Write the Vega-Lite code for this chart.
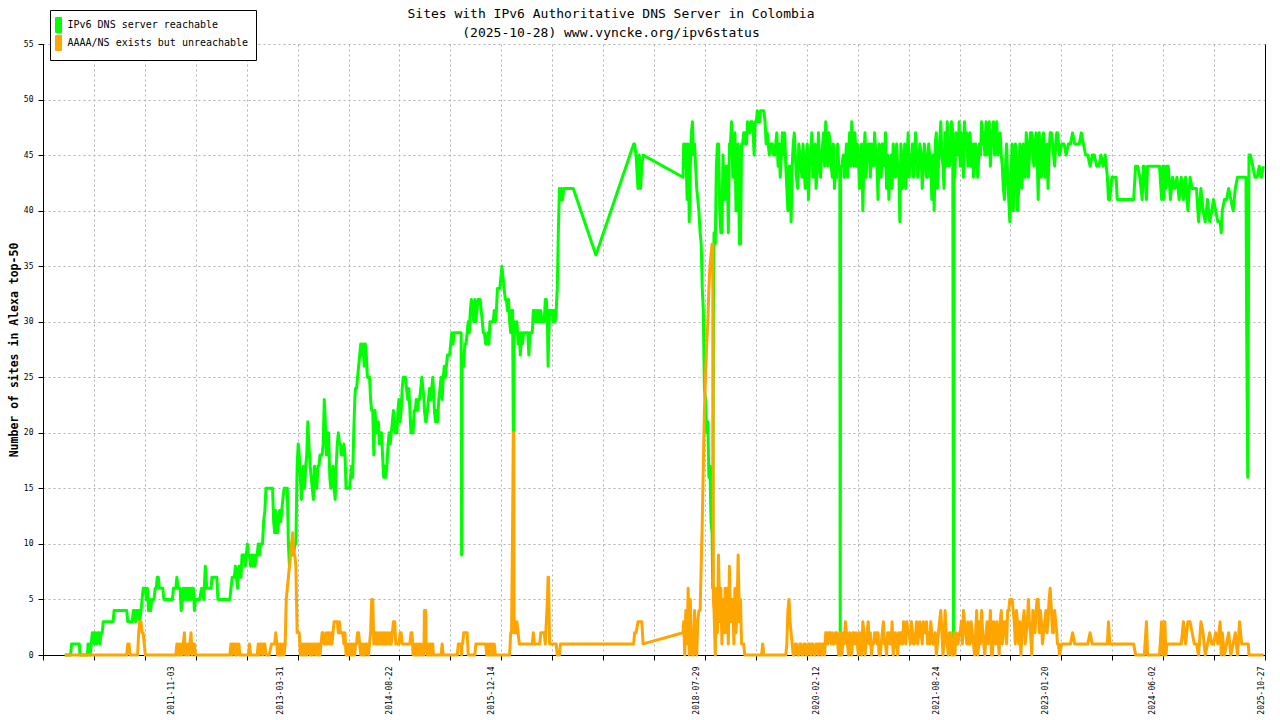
{
  "$schema": "https://vega.github.io/schema/vega-lite/v6.json",
  "width": 1222,
  "height": 611,
  "autosize": "none",
  "padding": {"left": 43, "top": 44, "right": 15, "bottom": 65},
  "background": "white",
  "config": {"view": {"stroke": null}, "font": "DejaVu Sans Mono"},
  "title": {
    "text": ["Sites with IPv6 Authoritative DNS Server in Colombia", "(2025-10-28) www.vyncke.org/ipv6status"],
    "font": "DejaVu Sans Mono",
    "fontSize": 13,
    "fontWeight": "normal",
    "color": "black",
    "anchor": "middle",
    "frame": "group",
    "dx": -43,
    "offset": -30,
    "lineHeight": 19
  },
  "data": {
    "values": [
      {"d":"2010-06-09","g":0,"o":0},{"d":"2010-07-06","g":0,"o":0},{"d":"2010-07-11","g":1,"o":0},{"d":"2010-08-16","g":1,"o":0},
      {"d":"2010-08-19","g":0,"o":0},{"d":"2010-09-23","g":0,"o":0},{"d":"2010-09-26","g":1,"o":0},{"d":"2010-10-03","g":1,"o":0},
      {"d":"2010-10-06","g":0,"o":0},{"d":"2010-10-11","g":1,"o":0},{"d":"2010-10-16","g":2,"o":0},{"d":"2010-10-21","g":2,"o":0},
      {"d":"2010-10-26","g":1,"o":0},{"d":"2010-11-01","g":2,"o":0},{"d":"2010-11-06","g":1,"o":0},{"d":"2010-11-11","g":2,"o":0},
      {"d":"2010-11-16","g":2,"o":0},{"d":"2010-11-21","g":1,"o":0},{"d":"2010-11-26","g":2,"o":0},{"d":"2010-12-01","g":2,"o":0},
      {"d":"2010-12-06","g":3,"o":0},{"d":"2011-01-21","g":3,"o":0},{"d":"2011-01-26","g":4,"o":0},{"d":"2011-03-26","g":4,"o":0},
      {"d":"2011-03-31","g":3,"o":1},{"d":"2011-04-06","g":3,"o":1},{"d":"2011-04-11","g":3,"o":0},{"d":"2011-04-21","g":3,"o":0},
      {"d":"2011-04-26","g":4,"o":0},{"d":"2011-05-01","g":4,"o":0},{"d":"2011-05-06","g":3,"o":0},{"d":"2011-05-11","g":4,"o":0},
      {"d":"2011-05-16","g":4,"o":0},{"d":"2011-05-21","g":4,"o":2},{"d":"2011-05-26","g":3,"o":3},{"d":"2011-06-01","g":4,"o":3},
      {"d":"2011-06-06","g":5,"o":2},{"d":"2011-06-11","g":6,"o":2},{"d":"2011-06-16","g":6,"o":1},{"d":"2011-06-21","g":6,"o":0},
      {"d":"2011-06-26","g":5,"o":0},{"d":"2011-07-01","g":6,"o":0},{"d":"2011-07-06","g":4,"o":0},{"d":"2011-07-11","g":5,"o":0},
      {"d":"2011-07-16","g":4,"o":0},{"d":"2011-07-21","g":5,"o":0},{"d":"2011-08-01","g":5,"o":0},{"d":"2011-08-06","g":6,"o":0},
      {"d":"2011-08-11","g":6,"o":0},{"d":"2011-08-16","g":7,"o":0},{"d":"2011-08-21","g":7,"o":0},{"d":"2011-08-26","g":6,"o":0},
      {"d":"2011-09-11","g":6,"o":0},{"d":"2011-09-16","g":5,"o":0},{"d":"2011-10-26","g":5,"o":0},{"d":"2011-10-31","g":6,"o":0},
      {"d":"2011-11-11","g":6,"o":0},{"d":"2011-11-16","g":7,"o":1},{"d":"2011-11-21","g":6,"o":0},{"d":"2011-11-26","g":6,"o":1},
      {"d":"2011-12-01","g":6,"o":0},{"d":"2011-12-06","g":4,"o":1},{"d":"2011-12-11","g":5,"o":0},{"d":"2011-12-16","g":6,"o":1},
      {"d":"2011-12-21","g":5,"o":2},{"d":"2011-12-26","g":6,"o":0},{"d":"2012-01-01","g":5,"o":0},{"d":"2012-01-06","g":6,"o":1},
      {"d":"2012-01-11","g":5,"o":0},{"d":"2012-01-16","g":6,"o":1},{"d":"2012-01-21","g":5,"o":2},{"d":"2012-01-26","g":6,"o":0},
      {"d":"2012-02-01","g":6,"o":1},{"d":"2012-02-06","g":4,"o":1},{"d":"2012-02-11","g":5,"o":0},{"d":"2012-02-21","g":5,"o":0},
      {"d":"2012-03-01","g":5,"o":0},{"d":"2012-03-11","g":6,"o":0},{"d":"2012-03-21","g":5,"o":0},{"d":"2012-03-28","g":8,"o":0},
      {"d":"2012-04-04","g":6,"o":0},{"d":"2012-04-24","g":6,"o":0},{"d":"2012-04-28","g":7,"o":0},{"d":"2012-05-21","g":7,"o":0},
      {"d":"2012-05-26","g":5,"o":0},{"d":"2012-07-21","g":5,"o":0},{"d":"2012-07-26","g":6,"o":1},{"d":"2012-08-01","g":7,"o":0},
      {"d":"2012-08-06","g":7,"o":1},{"d":"2012-08-11","g":7,"o":1},{"d":"2012-08-16","g":8,"o":0},{"d":"2012-08-21","g":7,"o":1},
      {"d":"2012-08-26","g":6,"o":0},{"d":"2012-09-01","g":8,"o":1},{"d":"2012-09-06","g":8,"o":0},{"d":"2012-09-11","g":7,"o":0},
      {"d":"2012-09-16","g":9,"o":0},{"d":"2012-09-21","g":9,"o":0},{"d":"2012-09-26","g":9,"o":0},{"d":"2012-10-01","g":8,"o":0},
      {"d":"2012-10-06","g":9,"o":0},{"d":"2012-10-11","g":10,"o":0},{"d":"2012-10-16","g":9,"o":0},{"d":"2012-10-21","g":9,"o":1},
      {"d":"2012-10-26","g":8,"o":0},{"d":"2012-11-01","g":9,"o":0},{"d":"2012-11-06","g":8,"o":0},{"d":"2012-11-11","g":9,"o":0},
      {"d":"2012-11-16","g":8,"o":0},{"d":"2012-11-21","g":9,"o":0},{"d":"2012-11-26","g":9,"o":0},{"d":"2012-12-01","g":10,"o":1},
      {"d":"2012-12-06","g":9,"o":0},{"d":"2012-12-11","g":10,"o":1},{"d":"2012-12-16","g":10,"o":1},{"d":"2012-12-21","g":10,"o":0},
      {"d":"2012-12-26","g":12,"o":1},{"d":"2013-01-01","g":13,"o":1},{"d":"2013-01-06","g":15,"o":0},{"d":"2013-01-21","g":15,"o":0},
      {"d":"2013-02-01","g":15,"o":1},{"d":"2013-02-06","g":15,"o":1},{"d":"2013-02-11","g":12,"o":1},{"d":"2013-02-16","g":11,"o":1},
      {"d":"2013-02-21","g":13,"o":2},{"d":"2013-02-26","g":11,"o":1},{"d":"2013-03-01","g":11,"o":0},{"d":"2013-03-06","g":12,"o":1},
      {"d":"2013-03-11","g":13,"o":0},{"d":"2013-03-16","g":12,"o":1},{"d":"2013-03-21","g":13,"o":0},{"d":"2013-03-26","g":14,"o":1},
      {"d":"2013-04-01","g":15,"o":0},{"d":"2013-04-06","g":15,"o":1},{"d":"2013-04-11","g":15,"o":5},{"d":"2013-04-16","g":15,"o":6},
      {"d":"2013-04-21","g":10,"o":7},{"d":"2013-04-26","g":8,"o":8},{"d":"2013-05-01","g":10,"o":9},{"d":"2013-05-06","g":9,"o":10},
      {"d":"2013-05-11","g":10,"o":11},{"d":"2013-05-16","g":9,"o":9},{"d":"2013-05-21","g":10,"o":9},{"d":"2013-05-26","g":10,"o":8},
      {"d":"2013-06-01","g":17,"o":2},{"d":"2013-06-06","g":19,"o":2},{"d":"2013-06-11","g":18,"o":2},{"d":"2013-06-16","g":16,"o":0},
      {"d":"2013-06-21","g":14,"o":1},{"d":"2013-06-26","g":16,"o":0},{"d":"2013-07-01","g":17,"o":1},{"d":"2013-07-06","g":15,"o":0},
      {"d":"2013-07-11","g":17,"o":1},{"d":"2013-07-16","g":18,"o":0},{"d":"2013-07-21","g":21,"o":1},{"d":"2013-07-26","g":19,"o":1},
      {"d":"2013-08-01","g":17,"o":0},{"d":"2013-08-06","g":16,"o":1},{"d":"2013-08-11","g":15,"o":0},{"d":"2013-08-16","g":14,"o":1},
      {"d":"2013-08-21","g":17,"o":1},{"d":"2013-08-26","g":16,"o":0},{"d":"2013-09-01","g":15,"o":1},{"d":"2013-09-06","g":17,"o":0},
      {"d":"2013-09-11","g":17,"o":1},{"d":"2013-09-16","g":18,"o":0},{"d":"2013-09-21","g":18,"o":1},{"d":"2013-09-26","g":18,"o":2},
      {"d":"2013-10-01","g":19,"o":2},{"d":"2013-10-06","g":23,"o":1},{"d":"2013-10-11","g":21,"o":1},{"d":"2013-10-16","g":18,"o":2},
      {"d":"2013-10-21","g":19,"o":1},{"d":"2013-10-26","g":20,"o":2},{"d":"2013-11-01","g":16,"o":1},{"d":"2013-11-06","g":15,"o":2},
      {"d":"2013-11-11","g":16,"o":1},{"d":"2013-11-16","g":17,"o":2},{"d":"2013-11-21","g":15,"o":3},{"d":"2013-11-26","g":14,"o":3},
      {"d":"2013-12-01","g":17,"o":3},{"d":"2013-12-06","g":19,"o":3},{"d":"2013-12-11","g":20,"o":2},{"d":"2013-12-16","g":19,"o":3},
      {"d":"2013-12-21","g":19,"o":2},{"d":"2013-12-26","g":18,"o":2},{"d":"2014-01-01","g":18,"o":2},{"d":"2014-01-06","g":19,"o":1},
      {"d":"2014-01-11","g":18,"o":2},{"d":"2014-01-16","g":15,"o":0},{"d":"2014-01-21","g":15,"o":1},{"d":"2014-01-26","g":15,"o":0},
      {"d":"2014-02-01","g":15,"o":1},{"d":"2014-02-06","g":16,"o":0},{"d":"2014-02-11","g":17,"o":1},{"d":"2014-02-16","g":16,"o":0},
      {"d":"2014-02-21","g":20,"o":1},{"d":"2014-02-26","g":23,"o":0},{"d":"2014-03-01","g":24,"o":1},{"d":"2014-03-06","g":24,"o":1},
      {"d":"2014-03-11","g":25,"o":2},{"d":"2014-03-16","g":26,"o":2},{"d":"2014-03-21","g":27,"o":1},{"d":"2014-03-26","g":28,"o":0},
      {"d":"2014-04-01","g":27,"o":1},{"d":"2014-04-06","g":28,"o":0},{"d":"2014-04-11","g":26,"o":1},{"d":"2014-04-16","g":28,"o":0},
      {"d":"2014-04-21","g":27,"o":1},{"d":"2014-04-26","g":25,"o":1},{"d":"2014-05-01","g":25,"o":0},{"d":"2014-05-06","g":25,"o":1},
      {"d":"2014-05-11","g":23,"o":2},{"d":"2014-05-16","g":22,"o":5},{"d":"2014-05-21","g":22,"o":5},{"d":"2014-05-26","g":18,"o":1},
      {"d":"2014-06-01","g":22,"o":2},{"d":"2014-06-06","g":20,"o":1},{"d":"2014-06-11","g":20,"o":2},{"d":"2014-06-16","g":21,"o":1},
      {"d":"2014-06-21","g":19,"o":2},{"d":"2014-06-26","g":20,"o":1},{"d":"2014-07-01","g":20,"o":2},{"d":"2014-07-06","g":18,"o":1},
      {"d":"2014-07-11","g":16,"o":2},{"d":"2014-07-16","g":17,"o":1},{"d":"2014-07-21","g":16,"o":2},{"d":"2014-07-26","g":17,"o":1},
      {"d":"2014-08-01","g":19,"o":2},{"d":"2014-08-06","g":20,"o":1},{"d":"2014-08-11","g":19,"o":2},{"d":"2014-08-16","g":20,"o":1},
      {"d":"2014-08-21","g":21,"o":2},{"d":"2014-08-26","g":22,"o":3},{"d":"2014-09-01","g":20,"o":3},{"d":"2014-09-06","g":21,"o":1},
      {"d":"2014-09-11","g":20,"o":1},{"d":"2014-09-16","g":22,"o":1},{"d":"2014-09-21","g":23,"o":1},{"d":"2014-09-26","g":21,"o":2},
      {"d":"2014-10-01","g":22,"o":2},{"d":"2014-10-06","g":24,"o":1},{"d":"2014-10-11","g":25,"o":1},{"d":"2014-10-16","g":25,"o":1},
      {"d":"2014-10-21","g":25,"o":1},{"d":"2014-10-26","g":24,"o":1},{"d":"2014-11-01","g":23,"o":1},{"d":"2014-11-06","g":24,"o":1},
      {"d":"2014-11-11","g":22,"o":1},{"d":"2014-11-16","g":20,"o":2},{"d":"2014-11-21","g":21,"o":2},{"d":"2014-11-26","g":20,"o":0},
      {"d":"2014-12-01","g":22,"o":1},{"d":"2014-12-06","g":22,"o":0},{"d":"2014-12-11","g":23,"o":1},{"d":"2014-12-16","g":22,"o":0},
      {"d":"2014-12-21","g":23,"o":1},{"d":"2014-12-26","g":23,"o":0},{"d":"2015-01-01","g":24,"o":1},{"d":"2015-01-06","g":25,"o":0},
      {"d":"2015-01-11","g":24,"o":1},{"d":"2015-01-16","g":23,"o":0},{"d":"2015-01-18","g":22,"o":4},{"d":"2015-01-24","g":21,"o":4},
      {"d":"2015-01-26","g":21,"o":1},{"d":"2015-02-01","g":22,"o":0},{"d":"2015-02-06","g":23,"o":1},{"d":"2015-02-11","g":24,"o":0},
      {"d":"2015-02-16","g":23,"o":1},{"d":"2015-02-21","g":24,"o":0},{"d":"2015-02-26","g":25,"o":1},{"d":"2015-03-01","g":24,"o":0},
      {"d":"2015-03-06","g":22,"o":0},{"d":"2015-03-11","g":21,"o":0},{"d":"2015-03-16","g":22,"o":0},{"d":"2015-03-21","g":21,"o":0},
      {"d":"2015-03-26","g":23,"o":0},{"d":"2015-04-01","g":24,"o":0},{"d":"2015-04-06","g":25,"o":0},{"d":"2015-04-11","g":23,"o":1},
      {"d":"2015-04-16","g":25,"o":0},{"d":"2015-04-21","g":26,"o":0},{"d":"2015-04-26","g":25,"o":0},{"d":"2015-05-01","g":26,"o":0},
      {"d":"2015-05-06","g":27,"o":0},{"d":"2015-05-11","g":27,"o":0},{"d":"2015-05-16","g":27,"o":0},{"d":"2015-05-21","g":28,"o":0},
      {"d":"2015-05-26","g":29,"o":0},{"d":"2015-06-01","g":28,"o":0},{"d":"2015-06-06","g":29,"o":0},{"d":"2015-06-11","g":29,"o":0},
      {"d":"2015-06-16","g":29,"o":0},{"d":"2015-06-21","g":29,"o":0},{"d":"2015-06-26","g":29,"o":1},{"d":"2015-07-01","g":29,"o":1},
      {"d":"2015-07-06","g":29,"o":1},{"d":"2015-07-09","g":29,"o":1},{"d":"2015-07-11","g":9,"o":0},{"d":"2015-07-13","g":26,"o":1},
      {"d":"2015-07-16","g":27,"o":1},{"d":"2015-07-21","g":26,"o":2},{"d":"2015-07-26","g":28,"o":2},{"d":"2015-08-01","g":28,"o":2},
      {"d":"2015-08-06","g":29,"o":2},{"d":"2015-08-11","g":30,"o":0},{"d":"2015-08-16","g":29,"o":0},{"d":"2015-08-21","g":31,"o":0},
      {"d":"2015-08-26","g":32,"o":0},{"d":"2015-09-01","g":31,"o":0},{"d":"2015-09-06","g":30,"o":0},{"d":"2015-09-11","g":32,"o":0},
      {"d":"2015-09-16","g":30,"o":1},{"d":"2015-09-21","g":31,"o":1},{"d":"2015-09-26","g":32,"o":1},{"d":"2015-10-01","g":32,"o":1},
      {"d":"2015-10-06","g":32,"o":1},{"d":"2015-10-11","g":31,"o":1},{"d":"2015-10-16","g":30,"o":1},{"d":"2015-10-21","g":29,"o":1},
      {"d":"2015-10-26","g":29,"o":1},{"d":"2015-11-01","g":28,"o":1},{"d":"2015-11-06","g":28,"o":0},{"d":"2015-11-11","g":29,"o":1},
      {"d":"2015-11-16","g":28,"o":0},{"d":"2015-11-21","g":30,"o":1},{"d":"2015-11-26","g":30,"o":0},{"d":"2015-12-01","g":30,"o":1},
      {"d":"2015-12-06","g":30,"o":0},{"d":"2015-12-11","g":31,"o":1},{"d":"2015-12-16","g":30,"o":0},{"d":"2015-12-21","g":31,"o":0},
      {"d":"2015-12-26","g":33,"o":0},{"d":"2016-01-01","g":33,"o":0},{"d":"2016-01-06","g":33,"o":0},{"d":"2016-01-11","g":34,"o":0},
      {"d":"2016-01-16","g":35,"o":0},{"d":"2016-01-21","g":34,"o":0},{"d":"2016-01-26","g":33,"o":0},{"d":"2016-02-01","g":32,"o":0},
      {"d":"2016-02-06","g":32,"o":0},{"d":"2016-02-11","g":31,"o":0},{"d":"2016-02-16","g":32,"o":0},{"d":"2016-02-21","g":30,"o":0},
      {"d":"2016-02-26","g":29,"o":2},{"d":"2016-03-01","g":31,"o":2},{"d":"2016-03-06","g":31,"o":12},{"d":"2016-03-09","g":20,"o":20},
      {"d":"2016-03-11","g":20,"o":20},{"d":"2016-03-13","g":29,"o":2},{"d":"2016-03-16","g":30,"o":2},{"d":"2016-03-21","g":29,"o":2},
      {"d":"2016-03-26","g":30,"o":3},{"d":"2016-04-01","g":28,"o":2},{"d":"2016-04-06","g":29,"o":1},{"d":"2016-04-11","g":27,"o":1},
      {"d":"2016-04-16","g":29,"o":1},{"d":"2016-04-21","g":28,"o":1},{"d":"2016-04-26","g":29,"o":1},{"d":"2016-05-01","g":29,"o":1},
      {"d":"2016-05-11","g":29,"o":1},{"d":"2016-05-16","g":29,"o":1},{"d":"2016-05-21","g":27,"o":1},{"d":"2016-05-26","g":29,"o":1},
      {"d":"2016-06-01","g":29,"o":1},{"d":"2016-06-06","g":29,"o":1},{"d":"2016-06-11","g":31,"o":2},{"d":"2016-06-16","g":31,"o":1},
      {"d":"2016-06-21","g":30,"o":1},{"d":"2016-06-26","g":31,"o":1},{"d":"2016-07-01","g":30,"o":1},{"d":"2016-07-06","g":31,"o":1},
      {"d":"2016-07-11","g":30,"o":1},{"d":"2016-07-16","g":31,"o":2},{"d":"2016-07-21","g":30,"o":2},{"d":"2016-07-26","g":30,"o":2},
      {"d":"2016-08-01","g":30,"o":2},{"d":"2016-08-06","g":32,"o":1},{"d":"2016-08-11","g":32,"o":3},{"d":"2016-08-16","g":30,"o":5},
      {"d":"2016-08-19","g":26,"o":7},{"d":"2016-08-21","g":28,"o":7},{"d":"2016-08-26","g":31,"o":1},{"d":"2016-09-01","g":31,"o":1},
      {"d":"2016-09-06","g":31,"o":1},{"d":"2016-09-11","g":30,"o":1},{"d":"2016-09-16","g":31,"o":1},{"d":"2016-09-21","g":30,"o":1},
      {"d":"2016-09-26","g":31,"o":1},{"d":"2016-10-01","g":33,"o":0},{"d":"2016-10-06","g":38,"o":0},{"d":"2016-10-11","g":42,"o":0},
      {"d":"2016-10-16","g":41,"o":1},{"d":"2016-10-21","g":42,"o":1},{"d":"2016-10-26","g":41,"o":1},{"d":"2016-11-01","g":42,"o":1},
      {"d":"2016-12-15","g":42,"o":1},{"d":"2017-03-31","g":36,"o":1},{"d":"2017-09-24","g":46,"o":1},{"d":"2017-09-28","g":46,"o":2},
      {"d":"2017-10-05","g":45,"o":2},{"d":"2017-10-14","g":42,"o":3},{"d":"2017-10-20","g":45,"o":3},{"d":"2017-10-26","g":42,"o":3},
      {"d":"2017-11-01","g":44,"o":3},{"d":"2017-11-07","g":45,"o":1},{"d":"2018-05-13","g":43,"o":2},{"d":"2018-05-16","g":46,"o":3},
      {"d":"2018-05-21","g":44,"o":0},{"d":"2018-05-26","g":46,"o":4},{"d":"2018-06-01","g":41,"o":1},{"d":"2018-06-06","g":46,"o":6},
      {"d":"2018-06-11","g":39,"o":0},{"d":"2018-06-16","g":44,"o":5},{"d":"2018-06-21","g":47,"o":1},{"d":"2018-06-26","g":48,"o":0},
      {"d":"2018-07-01","g":45,"o":0},{"d":"2018-07-06","g":46,"o":4},{"d":"2018-07-11","g":44,"o":1},{"d":"2018-07-16","g":42,"o":0},
      {"d":"2018-07-21","g":41,"o":3},{"d":"2018-07-26","g":40,"o":4},{"d":"2018-08-01","g":38,"o":4},{"d":"2018-08-06","g":37,"o":8},
      {"d":"2018-08-11","g":33,"o":12},{"d":"2018-08-16","g":31,"o":17},{"d":"2018-08-21","g":24,"o":22},{"d":"2018-08-26","g":23,"o":25},
      {"d":"2018-09-01","g":20,"o":28},{"d":"2018-09-06","g":21,"o":30},{"d":"2018-09-11","g":16,"o":33},{"d":"2018-09-16","g":17,"o":35},
      {"d":"2018-09-21","g":12,"o":36},{"d":"2018-09-26","g":11,"o":37},{"d":"2018-09-29","g":6,"o":37},{"d":"2018-10-02","g":30,"o":5},
      {"d":"2018-10-05","g":38,"o":4},{"d":"2018-10-11","g":37,"o":0},{"d":"2018-10-16","g":44,"o":6},{"d":"2018-10-21","g":46,"o":2},
      {"d":"2018-10-26","g":46,"o":9},{"d":"2018-11-01","g":40,"o":3},{"d":"2018-11-06","g":38,"o":6},{"d":"2018-11-11","g":38,"o":1},
      {"d":"2018-11-16","g":45,"o":5},{"d":"2018-11-21","g":41,"o":2},{"d":"2018-11-26","g":41,"o":6},{"d":"2018-12-01","g":44,"o":2},
      {"d":"2018-12-06","g":44,"o":6},{"d":"2018-12-11","g":38,"o":1},{"d":"2018-12-16","g":46,"o":8},{"d":"2018-12-21","g":46,"o":3},
      {"d":"2018-12-26","g":48,"o":5},{"d":"2019-01-01","g":43,"o":5},{"d":"2019-01-06","g":43,"o":1},{"d":"2019-01-11","g":47,"o":6},
      {"d":"2019-01-16","g":40,"o":2},{"d":"2019-01-21","g":40,"o":4},{"d":"2019-01-26","g":46,"o":9},{"d":"2019-02-01","g":37,"o":3},
      {"d":"2019-02-06","g":37,"o":5},{"d":"2019-02-11","g":46,"o":1},{"d":"2019-02-16","g":46,"o":1},{"d":"2019-02-21","g":47,"o":1},
      {"d":"2019-02-26","g":47,"o":0},{"d":"2019-03-01","g":46,"o":0},{"d":"2019-03-06","g":46,"o":0},{"d":"2019-03-11","g":48,"o":0},
      {"d":"2019-03-21","g":47,"o":0},{"d":"2019-04-01","g":48,"o":0},{"d":"2019-04-11","g":45,"o":0},{"d":"2019-04-21","g":48,"o":0},
      {"d":"2019-05-01","g":48,"o":0},{"d":"2019-05-11","g":49,"o":0},{"d":"2019-05-21","g":49,"o":1},{"d":"2019-05-26","g":49,"o":0},
      {"d":"2019-06-01","g":48,"o":0},{"d":"2019-06-11","g":47,"o":0},{"d":"2019-06-21","g":45,"o":0},{"d":"2019-07-01","g":46,"o":0},
      {"d":"2019-07-11","g":45,"o":0},{"d":"2019-07-21","g":46,"o":0},{"d":"2019-08-01","g":44,"o":0},{"d":"2019-08-11","g":43,"o":0},
      {"d":"2019-08-21","g":47,"o":0},{"d":"2019-09-01","g":47,"o":0},{"d":"2019-09-11","g":42,"o":1},{"d":"2019-09-16","g":40,"o":4},
      {"d":"2019-09-21","g":44,"o":5},{"d":"2019-09-26","g":44,"o":3},{"d":"2019-10-01","g":39,"o":2},{"d":"2019-10-11","g":46,"o":0},
      {"d":"2019-10-21","g":45,"o":1},{"d":"2019-11-01","g":42,"o":0},{"d":"2019-11-11","g":45,"o":1},{"d":"2019-11-21","g":43,"o":0},
      {"d":"2019-12-01","g":44,"o":1},{"d":"2019-12-11","g":44,"o":0},{"d":"2019-12-21","g":41,"o":1},{"d":"2020-01-01","g":45,"o":0},
      {"d":"2020-01-11","g":43,"o":1},{"d":"2020-01-21","g":46,"o":0},{"d":"2020-02-01","g":44,"o":1},{"d":"2020-02-11","g":44,"o":1},
      {"d":"2020-02-21","g":45,"o":0},{"d":"2020-03-01","g":47,"o":1},{"d":"2020-03-11","g":48,"o":2},{"d":"2020-03-21","g":44,"o":1},
      {"d":"2020-04-01","g":46,"o":2},{"d":"2020-04-11","g":43,"o":2},{"d":"2020-04-21","g":42,"o":1},{"d":"2020-05-01","g":43,"o":2},
      {"d":"2020-05-11","g":44,"o":0},{"d":"2020-05-16","g":44,"o":2},{"d":"2020-05-18","g":0,"o":1},{"d":"2020-05-20","g":44,"o":1},
      {"d":"2020-05-26","g":44,"o":0},{"d":"2020-06-01","g":45,"o":2},{"d":"2020-06-11","g":44,"o":3},{"d":"2020-06-21","g":43,"o":1},
      {"d":"2020-07-01","g":47,"o":2},{"d":"2020-07-11","g":48,"o":0},{"d":"2020-07-21","g":44,"o":2},{"d":"2020-08-01","g":44,"o":2},
      {"d":"2020-08-11","g":45,"o":0},{"d":"2020-08-21","g":43,"o":1},{"d":"2020-09-01","g":40,"o":3},{"d":"2020-09-11","g":47,"o":0},
      {"d":"2020-09-21","g":45,"o":2},{"d":"2020-10-01","g":46,"o":1},{"d":"2020-10-11","g":46,"o":0},{"d":"2020-10-21","g":44,"o":1},
      {"d":"2020-11-01","g":45,"o":2},{"d":"2020-11-11","g":41,"o":2},{"d":"2020-11-21","g":45,"o":0},{"d":"2020-12-01","g":46,"o":2},
      {"d":"2020-12-11","g":44,"o":1},{"d":"2020-12-21","g":42,"o":0},{"d":"2021-01-01","g":41,"o":2},{"d":"2021-01-11","g":45,"o":1},
      {"d":"2021-01-21","g":46,"o":0},{"d":"2021-02-01","g":43,"o":2},{"d":"2021-02-11","g":44,"o":0},{"d":"2021-02-21","g":39,"o":1},
      {"d":"2021-03-01","g":45,"o":2},{"d":"2021-03-11","g":44,"o":3},{"d":"2021-03-21","g":42,"o":1},{"d":"2021-04-01","g":47,"o":2},
      {"d":"2021-04-11","g":45,"o":1},{"d":"2021-04-21","g":46,"o":2},{"d":"2021-05-01","g":45,"o":1},{"d":"2021-05-11","g":45,"o":3},
      {"d":"2021-05-21","g":44,"o":2},{"d":"2021-06-01","g":45,"o":2},{"d":"2021-06-11","g":44,"o":3},{"d":"2021-06-21","g":45,"o":2},
      {"d":"2021-07-01","g":43,"o":1},{"d":"2021-07-11","g":45,"o":1},{"d":"2021-07-21","g":41,"o":2},{"d":"2021-08-01","g":40,"o":1},
      {"d":"2021-08-11","g":47,"o":0},{"d":"2021-08-21","g":44,"o":2},{"d":"2021-09-01","g":48,"o":4},{"d":"2021-09-11","g":44,"o":0},
      {"d":"2021-09-21","g":47,"o":4},{"d":"2021-10-01","g":48,"o":1},{"d":"2021-10-11","g":44,"o":2},{"d":"2021-10-21","g":48,"o":0},
      {"d":"2021-10-27","g":47,"o":1},{"d":"2021-10-30","g":0,"o":1},{"d":"2021-11-02","g":45,"o":2},{"d":"2021-11-11","g":47,"o":2},
      {"d":"2021-11-21","g":45,"o":1},{"d":"2021-12-01","g":44,"o":2},{"d":"2021-12-11","g":46,"o":1},{"d":"2021-12-21","g":48,"o":3},
      {"d":"2022-01-01","g":47,"o":1},{"d":"2022-01-11","g":46,"o":1},{"d":"2022-01-21","g":44,"o":3},{"d":"2022-02-01","g":43,"o":1},
      {"d":"2022-02-11","g":46,"o":2},{"d":"2022-02-21","g":43,"o":0},{"d":"2022-03-01","g":46,"o":3},{"d":"2022-03-11","g":48,"o":4},
      {"d":"2022-03-21","g":47,"o":1},{"d":"2022-04-01","g":48,"o":2},{"d":"2022-04-11","g":47,"o":1},{"d":"2022-04-21","g":44,"o":4},
      {"d":"2022-05-01","g":47,"o":0},{"d":"2022-05-11","g":45,"o":2},{"d":"2022-05-21","g":48,"o":3},{"d":"2022-06-01","g":46,"o":0},
      {"d":"2022-06-11","g":45,"o":4},{"d":"2022-06-21","g":42,"o":2},{"d":"2022-07-01","g":44,"o":3},{"d":"2022-07-11","g":43,"o":4},
      {"d":"2022-07-21","g":39,"o":5},{"d":"2022-08-01","g":46,"o":5},{"d":"2022-08-11","g":42,"o":3},{"d":"2022-08-21","g":45,"o":4},
      {"d":"2022-09-01","g":42,"o":1},{"d":"2022-09-11","g":44,"o":0},{"d":"2022-09-21","g":46,"o":3},{"d":"2022-10-01","g":43,"o":1},
      {"d":"2022-10-11","g":46,"o":3},{"d":"2022-10-21","g":45,"o":3},{"d":"2022-11-01","g":47,"o":0},{"d":"2022-11-11","g":44,"o":3},
      {"d":"2022-11-21","g":47,"o":4},{"d":"2022-12-01","g":41,"o":5},{"d":"2022-12-11","g":45,"o":4},{"d":"2022-12-21","g":46,"o":1},
      {"d":"2023-01-01","g":43,"o":3},{"d":"2023-01-11","g":46,"o":2},{"d":"2023-01-21","g":45,"o":5},{"d":"2023-02-01","g":47,"o":4},
      {"d":"2023-02-11","g":45,"o":2},{"d":"2023-02-21","g":46,"o":3},{"d":"2023-03-01","g":47,"o":1},{"d":"2023-03-11","g":45,"o":0},
      {"d":"2023-03-21","g":46,"o":1},{"d":"2023-04-01","g":46,"o":1},{"d":"2023-04-11","g":45,"o":1},{"d":"2023-04-21","g":46,"o":1},
      {"d":"2023-05-01","g":46,"o":1},{"d":"2023-05-11","g":47,"o":2},{"d":"2023-05-21","g":46,"o":1},{"d":"2023-06-01","g":46,"o":1},
      {"d":"2023-06-11","g":46,"o":1},{"d":"2023-06-21","g":47,"o":1},{"d":"2023-07-01","g":46,"o":1},{"d":"2023-07-11","g":45,"o":1},
      {"d":"2023-07-21","g":45,"o":1},{"d":"2023-08-01","g":44,"o":2},{"d":"2023-08-11","g":45,"o":1},{"d":"2023-08-21","g":45,"o":1},
      {"d":"2023-09-01","g":44,"o":1},{"d":"2023-09-11","g":44,"o":1},{"d":"2023-09-21","g":45,"o":1},{"d":"2023-10-01","g":44,"o":1},
      {"d":"2023-10-11","g":45,"o":1},{"d":"2023-10-21","g":43,"o":1},{"d":"2023-10-26","g":41,"o":3},{"d":"2023-11-01","g":41,"o":1},
      {"d":"2023-11-11","g":43,"o":1},{"d":"2023-11-21","g":43,"o":1},{"d":"2023-12-01","g":43,"o":1},{"d":"2023-12-06","g":41,"o":1},
      {"d":"2023-12-11","g":41,"o":1},{"d":"2023-12-21","g":41,"o":1},{"d":"2024-01-11","g":41,"o":1},{"d":"2024-02-11","g":41,"o":1},
      {"d":"2024-02-21","g":41,"o":1},{"d":"2024-03-01","g":44,"o":0},{"d":"2024-03-11","g":44,"o":0},{"d":"2024-03-21","g":43,"o":0},
      {"d":"2024-04-01","g":41,"o":0},{"d":"2024-04-06","g":44,"o":0},{"d":"2024-04-11","g":44,"o":0},{"d":"2024-04-21","g":41,"o":3},
      {"d":"2024-04-26","g":44,"o":0},{"d":"2024-05-11","g":44,"o":0},{"d":"2024-06-11","g":44,"o":0},{"d":"2024-06-21","g":44,"o":0},
      {"d":"2024-07-01","g":41,"o":3},{"d":"2024-07-06","g":44,"o":0},{"d":"2024-07-11","g":41,"o":0},{"d":"2024-07-16","g":44,"o":3},
      {"d":"2024-07-21","g":42,"o":0},{"d":"2024-07-26","g":44,"o":1},{"d":"2024-08-01","g":44,"o":1},{"d":"2024-08-11","g":41,"o":1},
      {"d":"2024-08-21","g":43,"o":1},{"d":"2024-09-01","g":42,"o":1},{"d":"2024-09-11","g":43,"o":1},{"d":"2024-09-21","g":41,"o":1},
      {"d":"2024-10-01","g":43,"o":1},{"d":"2024-10-11","g":41,"o":3},{"d":"2024-10-21","g":43,"o":1},{"d":"2024-11-01","g":40,"o":3},
      {"d":"2024-11-11","g":43,"o":3},{"d":"2024-11-21","g":42,"o":2},{"d":"2024-12-01","g":42,"o":1},{"d":"2024-12-11","g":42,"o":1},
      {"d":"2024-12-21","g":39,"o":0},{"d":"2025-01-01","g":42,"o":3},{"d":"2025-01-11","g":40,"o":2},{"d":"2025-01-21","g":39,"o":0},
      {"d":"2025-02-01","g":41,"o":1},{"d":"2025-02-11","g":39,"o":2},{"d":"2025-02-21","g":40,"o":1},{"d":"2025-03-01","g":41,"o":1},
      {"d":"2025-03-11","g":40,"o":2},{"d":"2025-03-21","g":39,"o":1},{"d":"2025-04-01","g":39,"o":3},{"d":"2025-04-06","g":38,"o":0},
      {"d":"2025-04-11","g":40,"o":2},{"d":"2025-04-21","g":41,"o":0},{"d":"2025-05-01","g":41,"o":1},{"d":"2025-05-11","g":42,"o":2},
      {"d":"2025-05-21","g":41,"o":0},{"d":"2025-06-01","g":40,"o":1},{"d":"2025-06-11","g":42,"o":2},{"d":"2025-06-21","g":43,"o":0},
      {"d":"2025-07-01","g":43,"o":3},{"d":"2025-07-11","g":43,"o":1},{"d":"2025-07-21","g":43,"o":1},{"d":"2025-07-31","g":43,"o":1},
      {"d":"2025-08-03","g":30,"o":1},{"d":"2025-08-08","g":16,"o":1},{"d":"2025-08-11","g":30,"o":1},{"d":"2025-08-14","g":45,"o":0},
      {"d":"2025-08-21","g":45,"o":0},{"d":"2025-09-01","g":44,"o":0},{"d":"2025-09-11","g":43,"o":0},{"d":"2025-09-21","g":43,"o":0},
      {"d":"2025-10-01","g":44,"o":0},{"d":"2025-10-11","g":43,"o":0},{"d":"2025-10-21","g":44,"o":0},
      {"d":"2019-03-16","g":47,"o":0},{"d":"2019-03-26","g":48,"o":0},{"d":"2019-04-06","g":47,"o":0},{"d":"2019-04-16","g":48,"o":0},
      {"d":"2019-04-26","g":49,"o":0},{"d":"2019-05-06","g":48,"o":0},{"d":"2019-05-16","g":49,"o":0},{"d":"2019-06-06","g":46,"o":0},
      {"d":"2019-06-16","g":46,"o":0},{"d":"2019-06-26","g":46,"o":0},{"d":"2019-07-06","g":46,"o":0},{"d":"2019-07-16","g":45,"o":0},
      {"d":"2019-07-26","g":47,"o":0},{"d":"2019-08-06","g":46,"o":0},{"d":"2019-08-16","g":45,"o":0},{"d":"2019-08-26","g":45,"o":0},
      {"d":"2019-09-06","g":44,"o":0},{"d":"2019-10-06","g":44,"o":1},{"d":"2019-10-16","g":47,"o":0},{"d":"2019-10-26","g":43,"o":1},
      {"d":"2019-11-06","g":46,"o":0},{"d":"2019-11-16","g":44,"o":1},{"d":"2019-11-26","g":46,"o":0},{"d":"2019-12-06","g":42,"o":1},
      {"d":"2019-12-16","g":46,"o":0},{"d":"2019-12-26","g":44,"o":1},{"d":"2020-01-06","g":47,"o":1},{"d":"2020-01-16","g":44,"o":0},
      {"d":"2020-01-26","g":42,"o":1},{"d":"2020-02-06","g":47,"o":0},{"d":"2020-02-16","g":43,"o":1},{"d":"2020-02-26","g":46,"o":1},
      {"d":"2020-03-06","g":44,"o":0},{"d":"2020-03-16","g":46,"o":2},{"d":"2020-03-26","g":47,"o":2},{"d":"2020-04-06","g":44,"o":1},
      {"d":"2020-04-16","g":46,"o":1},{"d":"2020-04-26","g":44,"o":2},{"d":"2020-05-06","g":46,"o":1},{"d":"2020-06-06","g":43,"o":1},
      {"d":"2020-06-16","g":46,"o":2},{"d":"2020-06-26","g":45,"o":0},{"d":"2020-07-06","g":44,"o":1},{"d":"2020-07-16","g":46,"o":2},
      {"d":"2020-07-26","g":47,"o":1},{"d":"2020-08-06","g":46,"o":1},{"d":"2020-08-16","g":42,"o":2},{"d":"2020-08-26","g":46,"o":0},
      {"d":"2020-09-06","g":45,"o":2},{"d":"2020-09-16","g":43,"o":1},{"d":"2020-09-26","g":46,"o":3},{"d":"2020-10-06","g":43,"o":2},
      {"d":"2020-10-16","g":45,"o":1},{"d":"2020-10-26","g":47,"o":2},{"d":"2020-11-06","g":44,"o":1},{"d":"2020-11-16","g":46,"o":0},
      {"d":"2020-11-26","g":43,"o":1},{"d":"2020-12-06","g":45,"o":3},{"d":"2020-12-16","g":47,"o":1},{"d":"2020-12-26","g":45,"o":2},
      {"d":"2021-01-06","g":44,"o":1},{"d":"2021-01-16","g":42,"o":3},{"d":"2021-01-26","g":45,"o":1},{"d":"2021-02-06","g":46,"o":1},
      {"d":"2021-02-16","g":44,"o":2},{"d":"2021-02-26","g":46,"o":2},{"d":"2021-03-06","g":42,"o":1},{"d":"2021-03-16","g":46,"o":2},
      {"d":"2021-03-26","g":44,"o":3},{"d":"2021-04-06","g":43,"o":2},{"d":"2021-04-16","g":44,"o":3},{"d":"2021-04-26","g":43,"o":1},
      {"d":"2021-05-06","g":47,"o":2},{"d":"2021-05-16","g":43,"o":1},{"d":"2021-05-26","g":46,"o":3},{"d":"2021-06-06","g":42,"o":1},
      {"d":"2021-06-16","g":46,"o":2},{"d":"2021-06-26","g":43,"o":3},{"d":"2021-07-06","g":46,"o":2},{"d":"2021-07-16","g":44,"o":3},
      {"d":"2021-07-26","g":45,"o":1},{"d":"2021-08-06","g":46,"o":2},{"d":"2021-08-16","g":42,"o":1},{"d":"2021-08-26","g":46,"o":3},
      {"d":"2021-09-06","g":45,"o":2},{"d":"2021-09-16","g":42,"o":1},{"d":"2021-09-26","g":44,"o":2},{"d":"2021-10-06","g":46,"o":0},
      {"d":"2021-10-16","g":45,"o":2},{"d":"2021-11-06","g":43,"o":0},{"d":"2021-11-16","g":46,"o":1},{"d":"2021-11-26","g":48,"o":2},
      {"d":"2021-12-06","g":47,"o":3},{"d":"2021-12-16","g":43,"o":4},{"d":"2021-12-26","g":46,"o":2},{"d":"2022-01-06","g":44,"o":3},
      {"d":"2022-01-16","g":47,"o":1},{"d":"2022-01-26","g":46,"o":2},{"d":"2022-02-06","g":46,"o":0},{"d":"2022-02-16","g":44,"o":4},
      {"d":"2022-02-26","g":45,"o":1},{"d":"2022-03-06","g":45,"o":1},{"d":"2022-03-16","g":46,"o":2},{"d":"2022-03-26","g":45,"o":0},
      {"d":"2022-04-06","g":45,"o":3},{"d":"2022-04-16","g":48,"o":2},{"d":"2022-04-26","g":46,"o":0},{"d":"2022-05-06","g":48,"o":3},
      {"d":"2022-05-16","g":46,"o":1},{"d":"2022-05-26","g":45,"o":2},{"d":"2022-06-06","g":47,"o":3},{"d":"2022-06-16","g":44,"o":1},
      {"d":"2022-06-26","g":41,"o":3},{"d":"2022-07-06","g":46,"o":1},{"d":"2022-07-16","g":41,"o":4},{"d":"2022-07-26","g":43,"o":5},
      {"d":"2022-08-06","g":40,"o":4},{"d":"2022-08-16","g":46,"o":1},{"d":"2022-08-26","g":40,"o":3},{"d":"2022-09-06","g":46,"o":3},
      {"d":"2022-09-16","g":42,"o":2},{"d":"2022-09-26","g":44,"o":4},{"d":"2022-10-06","g":47,"o":2},{"d":"2022-10-16","g":43,"o":5},
      {"d":"2022-10-26","g":47,"o":2},{"d":"2022-11-06","g":45,"o":4},{"d":"2022-11-16","g":46,"o":2},{"d":"2022-11-26","g":45,"o":5},
      {"d":"2022-12-06","g":47,"o":2},{"d":"2022-12-16","g":43,"o":3},{"d":"2022-12-26","g":47,"o":2},{"d":"2023-01-06","g":45,"o":4},
      {"d":"2023-01-16","g":42,"o":3},{"d":"2023-01-26","g":47,"o":6},{"d":"2023-02-06","g":46,"o":2},{"d":"2023-02-16","g":44,"o":4},
      {"d":"2023-02-26","g":47,"o":2},{"d":"2023-03-06","g":46,"o":1}
    ]
  },
  "layer": [
    {
      "mark": {"type": "line", "strokeWidth": 3, "strokeJoin": "round"},
      "encoding": {
        "x": {
          "field": "d",
          "type": "temporal",
          "scale": {
            "type": "utc",
            "domain": [{"year": 2010, "month": 2, "date": 27, "utc": true}, {"year": 2025, "month": 10, "date": 28, "utc": true}]
          },
          "axis": {
            "orient": "bottom",
            "values": [1267228800000, 1287828000000, 1308427200000, 1329026400000, 1349625600000, 1370224800000, 1390824000000, 1411423200000, 1432022400000, 1452621600000, 1473220800000, 1493820000000, 1514419200000, 1535018400000, 1555617600000, 1576216800000, 1596816000000, 1617415200000, 1638014400000, 1658613600000, 1679212800000, 1699812000000, 1720411200000, 1741010400000, 1761609600000],
            "labels": false,
            "ticks": true,
            "tickSize": 5,
            "tickColor": "black",
            "domainColor": "black",
            "grid": true,
            "gridColor": "#b0b0b0",
            "gridDash": [2, 3],
            "title": null
          }
        },
        "y": {
          "field": "g",
          "type": "quantitative",
          "scale": {"domain": [0, 55], "nice": false},
          "axis": {
            "values": [0, 5, 10, 15, 20, 25, 30, 35, 40, 45, 50, 55],
            "grid": true,
            "gridColor": "#b0b0b0",
            "gridDash": [2, 3],
            "tickSize": 5,
            "tickColor": "black",
            "domainColor": "black",
            "labelFont": "DejaVu Sans Mono",
            "labelFontSize": 8,
            "labelColor": "black",
            "labelPadding": 5,
            "title": "Number of sites in Alexa top-50",
            "titleFont": "DejaVu Sans Mono",
            "titleFontSize": 11.5,
            "titleFontWeight": "bold",
            "titleColor": "black",
            "titlePadding": 4
          }
        },
        "color": {
          "datum": "IPv6 DNS server reachable",
          "scale": {
            "domain": ["IPv6 DNS server reachable", "AAAA/NS exists but unreachable"],
            "range": ["#00ff00", "#ffa500"]
          },
          "legend": {
            "orient": "none",
            "legendX": 7,
            "legendY": -34,
            "title": null,
            "symbolType": "M-0.4,-1H0.4V1H-0.4Z",
            "symbolSize": 225,
            "symbolOffset": -6.5,
            "labelFont": "DejaVu Sans Mono",
            "labelFontSize": 10,
            "labelColor": "black",
            "labelLimit": 0,
            "labelOffset": 1,
            "padding": 7,
            "rowPadding": -4,
            "strokeColor": "black",
            "fillColor": "white",
            "encode": {
              "symbols": {
                "update": {
                  "fill": {"scale": "color", "field": "value"},
                  "stroke": {"value": "black"},
                  "strokeWidth": {"value": 1},
                  "opacity": {"value": 1}
                }
              }
            }
          }
        }
      }
    },
    {
      "mark": {"type": "line", "strokeWidth": 3, "strokeJoin": "round"},
      "encoding": {
        "x": {
          "field": "d",
          "type": "temporal",
          "axis": {
            "orient": "bottom",
            "values": [
              {"year": 2011, "month": 11, "date": 3, "utc": true},
              {"year": 2013, "month": 3, "date": 31, "utc": true},
              {"year": 2014, "month": 8, "date": 22, "utc": true},
              {"year": 2015, "month": 12, "date": 14, "utc": true},
              {"year": 2018, "month": 7, "date": 29, "utc": true},
              {"year": 2020, "month": 2, "date": 12, "utc": true},
              {"year": 2021, "month": 8, "date": 24, "utc": true},
              {"year": 2023, "month": 1, "date": 20, "utc": true},
              {"year": 2024, "month": 6, "date": 2, "utc": true},
              {"year": 2025, "month": 10, "date": 27, "utc": true}
            ],
            "format": "%Y-%m-%d",
            "labelAngle": -90,
            "labelFont": "DejaVu Sans Mono",
            "labelFontSize": 8,
            "labelColor": "black",
            "labelPadding": 11,
            "labelOffset": -3,
            "labelOverlap": false,
            "labelFlush": false,
            "ticks": false,
            "domain": false,
            "grid": false,
            "title": null
          }
        },
        "y": {
          "field": "o",
          "type": "quantitative",
          "axis": {
            "orient": "right",
            "labels": false,
            "ticks": false,
            "grid": false,
            "domain": true,
            "domainColor": "black",
            "title": null
          }
        },
        "color": {"datum": "AAAA/NS exists but unreachable"}
      }
    }
  ],
  "resolve": {"axis": {"x": "independent", "y": "independent"}}
}
